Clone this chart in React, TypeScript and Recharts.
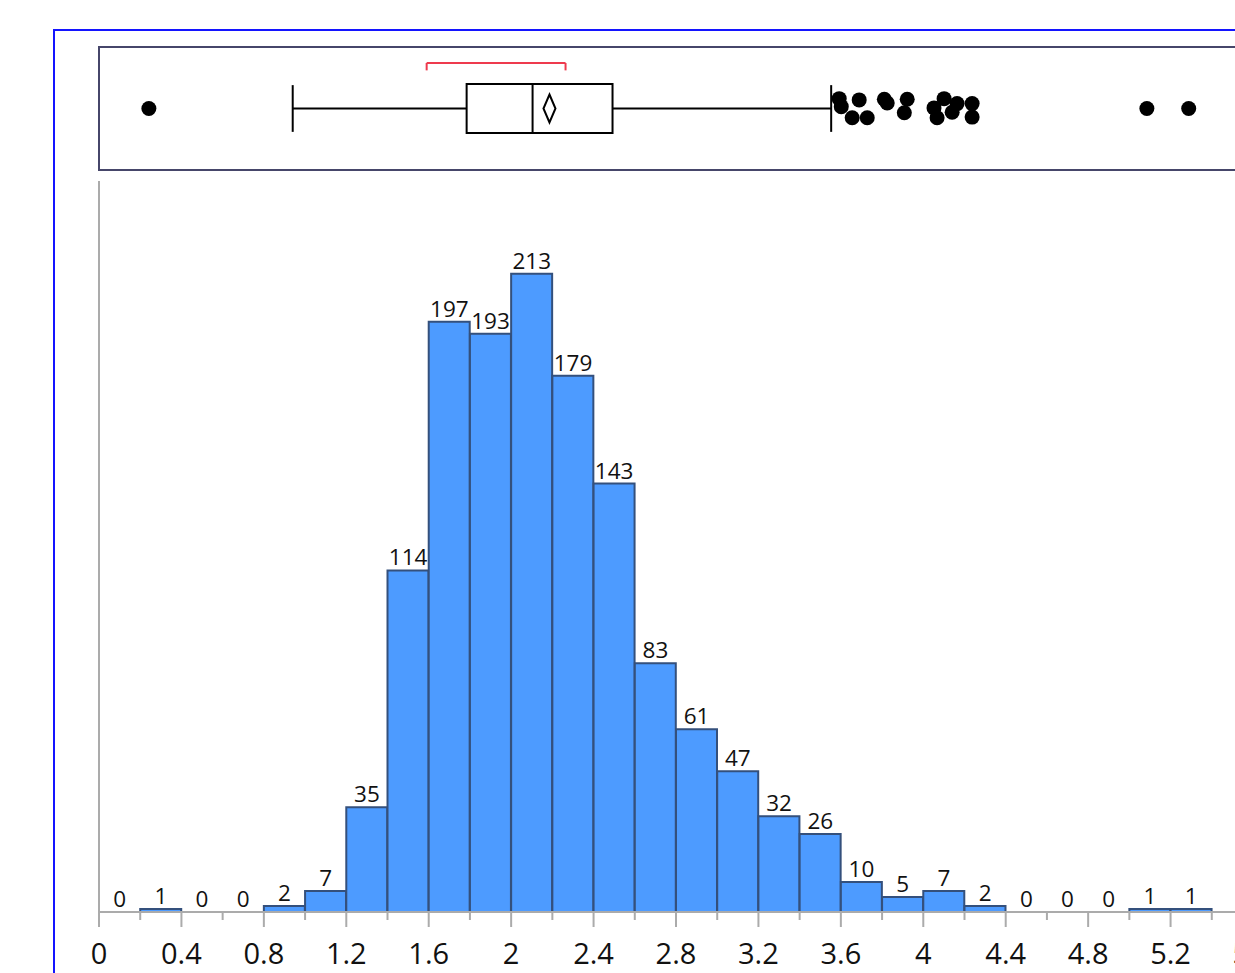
import React from 'react';
import {
  ComposedChart,
  Bar,
  Line,
  XAxis,
  YAxis,
  LabelList,
  Scatter,
  ReferenceLine,
  ReferenceArea,
} from 'recharts';

// ---------- data ----------
const binStarts = [
  0, 0.2, 0.4, 0.6, 0.8, 1.0, 1.2, 1.4, 1.6, 1.8, 2.0, 2.2, 2.4, 2.6, 2.8,
  3.0, 3.2, 3.4, 3.6, 3.8, 4.0, 4.2, 4.4, 4.6, 4.8, 5.0, 5.2,
];
const binWidth = 0.2;
const counts = [
  0, 1, 0, 0, 2, 7, 35, 114, 197, 193, 213, 179, 143, 83, 61, 47, 32, 26, 10,
  5, 7, 2, 0, 0, 0, 1, 1,
];

const majorTicks = [0, 0.4, 0.8, 1.2, 1.6, 2, 2.4, 2.8, 3.2, 3.6, 4, 4.4, 4.8, 5.2, 5.6];
const tickLabels = ['0', '0.4', '0.8', '1.2', '1.6', '2', '2.4', '2.8', '3.2', '3.6', '4', '4.4', '4.8', '5.2', '5.6'];
const minorTicks = [0.2, 0.6, 1.0, 1.4, 1.8, 2.2, 2.6, 3.0, 3.4, 3.8, 4.2, 4.6, 5.0, 5.4];

// box plot summary
const whiskerLow = 0.94;
const quartile1 = 1.784;
const medianValue = 2.104;
const quartile3 = 2.492;
const whiskerHigh = 3.553;
const meanValue = 2.186;
const shortestHalfLow = 1.59;
const shortestHalfHigh = 2.264;

const outlierValues = [
  0.242, 3.592, 3.602, 3.689, 3.655, 3.728, 3.811, 3.825, 3.922, 3.908, 4.052,
  4.101, 4.067, 4.14, 4.164, 4.237, 4.237, 5.085, 5.288,
];
const outlierJitter = [
  0, 0.16, 0.03, 0.14, -0.15, -0.15, 0.15, 0.09, 0.15, -0.07, 0.01, 0.16,
  -0.15, -0.06, 0.08, 0.08, -0.14, 0, 0,
];

// ---------- derived tables ----------
const histData = binStarts.map((s, i) => ({ mid: s + binWidth / 2, count: counts[i] }));
const allTicks = [...majorTicks, ...minorTicks].sort((a, b) => a - b);
const outlierData = outlierValues.map((v, i) => ({ x: v, y: outlierJitter[i] }));
const meanData = [{ x: meanValue, y: 0 }];

const FONT = '"Open Sans", "Noto Sans", sans-serif';
const AXIS_GRAY = '#ababab';

const AxisTick = (props: any) => {
  const { x, y, payload } = props;
  const v = payload.value;
  const idx = majorTicks.findIndex((t) => Math.abs(t - v) < 1e-6);
  const major = idx >= 0;
  return (
    <g>
      <line x1={x} x2={x} y1={y} y2={y + (major ? 15 : 8)} stroke={AXIS_GRAY} strokeWidth={2} />
      {major && (
        <text x={x} y={y + 52} textAnchor="middle" fontSize={29} fontFamily={FONT} fill="#111">
          {tickLabels[idx]}
        </text>
      )}
    </g>
  );
};

const Dot = (p: any) => <circle cx={p.cx} cy={p.cy} r={7.5} fill="#000" />;
const Diamond = (p: any) => (
  <polygon
    points={`${p.cx},${p.cy - 14} ${p.cx + 6},${p.cy} ${p.cx},${p.cy + 14} ${p.cx - 6},${p.cy}`}
    fill="#fff"
    stroke="#000"
    strokeWidth={2}
  />
);

const BOX_H = 0.38;
const XDOMAIN: [number, number] = [0, 5.6];
const CHART_W = 1300;
const MARGIN_L = 99;
const MARGIN_R = 47;

export default function App() {
  return (
    <div
      style={{
        position: 'fixed',
        left: 0,
        top: 0,
        width: 1235,
        height: 973,
        overflow: 'hidden',
        background: '#fff',
      }}
    >
      {/* outer blue frame */}
      <div
        style={{
          position: 'absolute',
          left: 53,
          top: 29,
          width: 1400,
          height: 1100,
          border: '2px solid #1414ff',
        }}
      />
      {/* box plot panel frame */}
      <div
        style={{
          position: 'absolute',
          left: 98,
          top: 46,
          width: 1300,
          height: 121,
          border: '2px solid #46466a',
        }}
      />

      {/* box plot */}
      <div style={{ position: 'absolute', left: 0, top: 0 }}>
        <ComposedChart
          width={CHART_W}
          height={200}
          margin={{ top: 47, bottom: 30, left: MARGIN_L, right: MARGIN_R }}
        >
          <XAxis dataKey="x" type="number" domain={XDOMAIN} hide allowDataOverflow />
          <YAxis dataKey="y" type="number" domain={[-1, 1]} hide allowDataOverflow />
          {/* whiskers */}
          <ReferenceLine segment={[{ x: whiskerLow, y: 0 }, { x: quartile1, y: 0 }]} stroke="#000" strokeWidth={2} />
          <ReferenceLine segment={[{ x: quartile3, y: 0 }, { x: whiskerHigh, y: 0 }]} stroke="#000" strokeWidth={2} />
          <ReferenceLine segment={[{ x: whiskerLow, y: -BOX_H }, { x: whiskerLow, y: BOX_H }]} stroke="#000" strokeWidth={2} />
          <ReferenceLine segment={[{ x: whiskerHigh, y: -BOX_H }, { x: whiskerHigh, y: BOX_H }]} stroke="#000" strokeWidth={2} />
          {/* box */}
          <ReferenceArea
            x1={quartile1}
            x2={quartile3}
            y1={-BOX_H - 0.02}
            y2={BOX_H + 0.02}
            fill="#fff"
            fillOpacity={1}
            stroke="#000"
            strokeWidth={2}
          />
          <ReferenceLine segment={[{ x: medianValue, y: -BOX_H - 0.02 }, { x: medianValue, y: BOX_H + 0.02 }]} stroke="#000" strokeWidth={2} />
          {/* shortest half bracket */}
          <ReferenceLine segment={[{ x: shortestHalfLow, y: 0.74 }, { x: shortestHalfHigh, y: 0.74 }]} stroke="#ee3a4e" strokeWidth={2} />
          <ReferenceLine segment={[{ x: shortestHalfLow, y: 0.74 }, { x: shortestHalfLow, y: 0.62 }]} stroke="#ee3a4e" strokeWidth={2} />
          <ReferenceLine segment={[{ x: shortestHalfHigh, y: 0.74 }, { x: shortestHalfHigh, y: 0.62 }]} stroke="#ee3a4e" strokeWidth={2} />
          <Scatter data={meanData} shape={Diamond} isAnimationActive={false} />
          <Scatter data={outlierData} shape={Dot} isAnimationActive={false} />
        </ComposedChart>
      </div>

      {/* histogram */}
      <div style={{ position: 'absolute', left: 0, top: 0 }}>
        <ComposedChart
          width={CHART_W}
          height={973}
          data={histData}
          margin={{ top: 181, bottom: 11, left: MARGIN_L, right: MARGIN_R }}
          barCategoryGap={0}
          barGap={0}
        >
          <XAxis
            dataKey="mid"
            type="number"
            domain={XDOMAIN}
            ticks={allTicks}
            interval={0}
            height={50}
            tickSize={0}
            tickMargin={0}
            tickLine={false}
            tick={<AxisTick />}
            axisLine={{ stroke: AXIS_GRAY, strokeWidth: 2 }}
          />
          <YAxis type="number" domain={[0, 244]} hide />
          <ReferenceLine x={0} stroke={AXIS_GRAY} strokeWidth={2} />
          <Bar dataKey="count" fill="#4d9bff" stroke="#34507c" strokeWidth={2} isAnimationActive={false} />
          <Line
            dataKey="count"
            stroke="none"
            dot={false}
            activeDot={false}
            isAnimationActive={false}
          >
            <LabelList
              dataKey="count"
              position="top"
              offset={5}
              fontSize={22.5}
              fontFamily={FONT}
              fill="#111"
            />
          </Line>
        </ComposedChart>
      </div>
    </div>
  );
}
